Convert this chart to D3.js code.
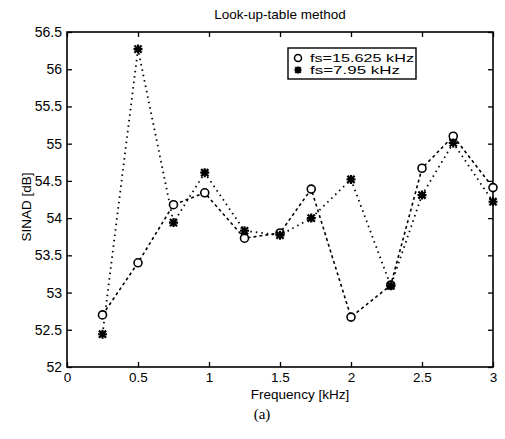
<!DOCTYPE html>
<html>
<head>
<meta charset="utf-8">
<script src="https://cdn.jsdelivr.net/npm/d3@7"></script>
<style>
  body { margin: 0; background: #fff; }
  svg { font-family: "Liberation Sans", Arial, sans-serif; }
</style>
</head>
<body>
<svg id="chart"></svg>
<script>
// values
var freq = [0.25, 0.5, 0.75, 0.97, 1.25, 1.5, 1.72, 2.0, 2.28, 2.5, 2.72, 3.0];
var sinadHigh = [52.70, 53.40, 54.18, 54.34, 53.73, 53.80, 54.39, 52.67, 53.10, 54.67, 55.10, 54.41]; // fs=15.625 kHz
var sinadLow = [52.44, 56.27, 53.94, 54.61, 53.83, 53.77, 54.00, 54.52, 53.09, 54.31, 55.01, 54.22]; // fs=7.95 kHz
var xTicks = [0, 0.5, 1, 1.5, 2, 2.5, 3];
var yTicks = [52, 52.5, 53, 53.5, 54, 54.5, 55, 55.5, 56, 56.5];
var legendLabels = ["fs=15.625 kHz", "fs=7.95 kHz"];

var width = 505, height = 439;
var margin = { top: 32, right: 12, bottom: 72, left: 67 };

var svg = d3.select("#chart")
    .attr("width", width)
    .attr("height", height);

var x = d3.scaleLinear().domain([0, 3]).range([margin.left, width - margin.right]);
var y = d3.scaleLinear().domain([52, 56.5]).range([height - margin.bottom, margin.top]);

var x0 = x.range()[0], x1 = x.range()[1], y0 = y.range()[0], y1 = y.range()[1];

// inward ticks on all four sides, like matlab's box
svg.append("g")
    .attr("transform", "translate(0," + y0 + ")")
    .call(d3.axisBottom(x).tickValues(xTicks).tickSize(-5).tickPadding(5)
      .tickFormat(d3.format("")))
    .call(g => g.select(".domain").remove())
    .selectAll("text").attr("font-size", 13.5).attr("fill", "#000");

svg.append("g")
    .attr("transform", "translate(0," + y1 + ")")
    .call(d3.axisTop(x).tickValues(xTicks).tickSize(-5).tickFormat(""))
    .call(g => g.select(".domain").remove());

svg.append("g")
    .attr("transform", "translate(" + x0 + ",0)")
    .call(d3.axisLeft(y).tickValues(yTicks).tickSize(-5).tickPadding(5)
      .tickFormat(d3.format("")))
    .call(g => g.select(".domain").remove())
    .selectAll("text").attr("font-size", 14).attr("fill", "#000");

svg.append("g")
    .attr("transform", "translate(" + x1 + ",0)")
    .call(d3.axisRight(y).tickValues(yTicks).tickSize(-5).tickFormat(""))
    .call(g => g.select(".domain").remove());

svg.selectAll(".tick line").attr("stroke", "#000").attr("stroke-width", 1.3);

svg.append("rect")
    .attr("x", x0).attr("y", y1)
    .attr("width", x1 - x0).attr("height", y0 - y1)
    .attr("fill", "none").attr("stroke", "#000").attr("stroke-width", 1.6);

// lines
var line = d3.line().x(d => x(d[0])).y(d => y(d[1]));

svg.append("path")
    .datum(d3.zip(freq, sinadHigh))
    .attr("d", line)
    .attr("fill", "none").attr("stroke", "#000").attr("stroke-width", 1.6)
    .attr("stroke-dasharray", "3,3");

svg.append("path")
    .datum(d3.zip(freq, sinadLow))
    .attr("d", line)
    .attr("fill", "none").attr("stroke", "#000").attr("stroke-width", 1.8)
    .attr("stroke-dasharray", "1.5,4");

// markers
function star(g, cx, cy, r) {
  var d = "M" + (cx - r) + "," + cy + "H" + (cx + r) +
          "M" + cx + "," + (cy - r) + "V" + (cy + r) +
          "M" + (cx - r * 0.8) + "," + (cy - r * 0.8) + "L" + (cx + r * 0.8) + "," + (cy + r * 0.8) +
          "M" + (cx - r * 0.8) + "," + (cy + r * 0.8) + "L" + (cx + r * 0.8) + "," + (cy - r * 0.8);
  g.append("path").attr("d", d).attr("stroke", "#000").attr("stroke-width", 2.2).attr("fill", "none");
}

svg.selectAll(".pt-high")
    .data(d3.zip(freq, sinadHigh))
  .enter().append("circle")
    .attr("cx", d => x(d[0]))
    .attr("cy", d => y(d[1]))
    .attr("r", 4)
    .attr("fill", "#fff").attr("stroke", "#000").attr("stroke-width", 1.6);

var stars = svg.append("g");
d3.zip(freq, sinadLow).forEach(d => star(stars, x(d[0]), y(d[1]), 4.5));

// legend
var lg = svg.append("g").attr("transform", "translate(288,48)");
lg.append("rect")
    .attr("width", 128).attr("height", 31)
    .attr("fill", "#fff").attr("stroke", "#000").attr("stroke-width", 1.4);
lg.append("circle").attr("cx", 10).attr("cy", 10).attr("r", 3.5)
    .attr("fill", "none").attr("stroke", "#000").attr("stroke-width", 1.5);
star(lg, 10, 22, 3.5);
lg.selectAll(".lab")
    .data(legendLabels)
  .enter().append("text")
    .attr("x", 22)
    .attr("y", (d, i) => 14 + i * 12)
    .attr("font-size", 11)
    .attr("textLength", (d, i) => i ? 90 : 104)
    .attr("lengthAdjust", "spacingAndGlyphs")
    .text(d => d);

// titles
svg.append("text")
    .attr("x", (x0 + x1) / 2).attr("y", 19)
    .attr("text-anchor", "middle").attr("font-size", 13.5)
    .text("Look-up-table method");

svg.append("text")
    .attr("x", 300).attr("y", 399)
    .attr("text-anchor", "middle").attr("font-size", 13.5)
    .text("Frequency [kHz]");

svg.append("text")
    .attr("transform", "translate(31," + 207 + ") rotate(-90)")
    .attr("text-anchor", "middle").attr("font-size", 13.5)
    .text("SINAD [dB]");

svg.append("text")
    .attr("x", 262).attr("y", 419)
    .attr("text-anchor", "middle").attr("font-size", 15)
    .attr("font-family", "'Liberation Serif', 'DejaVu Serif', serif")
    .text("(a)");
</script>
</body>
</html>
